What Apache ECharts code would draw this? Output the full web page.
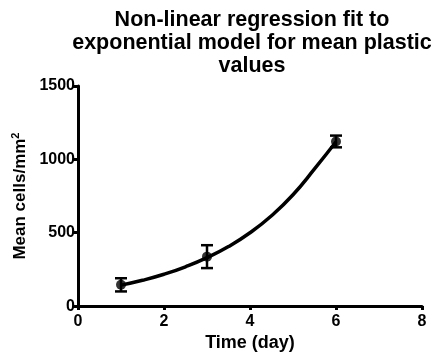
<!DOCTYPE html>
<html>
<head>
<meta charset="utf-8">
<script src="https://cdn.jsdelivr.net/npm/echarts@6/dist/echarts.min.js"></script>
<style>html,body{margin:0;padding:0;background:#fff}#c{width:435px;height:357px}</style>
</head>
<body>
<div id="c"></div>
<script>
// Observed means with SEM
var days = [1, 3, 6];
var meanValues = [145, 337, 1122];
var semValues = [45, 78, 40];
// Fitted exponential curve
var fitDays = [1, 1.5, 2, 2.5, 3, 3.5, 4, 4.5, 5, 5.5, 6];
var fitValues = [143, 176, 217, 268, 330, 406, 500, 616, 759, 935, 1120];
var xTicks = [0, 2, 4, 6, 8];
var yTicks = [0, 500, 1000, 1500];

var FONT = '"Liberation Sans", Arial, sans-serif';
var chart = echarts.init(document.getElementById('c'), null, {renderer: 'canvas'});

var pts = days.map(function (d, i) { return [d, meanValues[i]]; });
var errs = days.map(function (d, i) { return [d, meanValues[i] - semValues[i], meanValues[i] + semValues[i]]; });
var fit = fitDays.map(function (d, i) { return [d, fitValues[i]]; });

chart.setOption({
  animation: false,
  backgroundColor: '#fff',
  title: {
    text: 'Non-linear regression fit to\nexponential model for mean plastic\nvalues',
    left: 247, top: 4, textAlign: 'center',
    textStyle: {fontFamily: FONT, fontWeight: 'bold', fontSize: 21.5, lineHeight: 23, color: '#000'}
  },
  grid: {left: 78, right: 13, top: 86, bottom: 50, containLabel: false},
  xAxis: {
    type: 'value', min: xTicks[0], max: xTicks[xTicks.length - 1], interval: 2,
    name: 'Time (day)', nameLocation: 'middle', nameGap: 26,
    nameTextStyle: {fontFamily: FONT, fontWeight: 'bold', fontSize: 18, color: '#000'},
    axisLine: {lineStyle: {color: '#000', width: 3}},
    axisTick: {show: true, length: 4, lineStyle: {color: '#000', width: 3}},
    axisLabel: {fontFamily: FONT, fontWeight: 'bold', fontSize: 16, color: '#000', margin: 7,
      formatter: function (v) { return String(v); }},
    splitLine: {show: false}
  },
  yAxis: {
    type: 'value', min: yTicks[0], max: yTicks[yTicks.length - 1], interval: 500,
    name: 'Mean cells/mm{sup|2}', nameLocation: 'middle', nameGap: 48,
    nameTextStyle: {fontFamily: FONT, fontWeight: 'bold', fontSize: 17, color: '#000',
      rich: {sup: {fontFamily: FONT, fontWeight: 'bold', fontSize: 11, verticalAlign: 'top', padding: [0, 0, 8, 0], color: '#000'}}},
    axisLine: {show: true, lineStyle: {color: '#000', width: 3}},
    axisTick: {show: true, length: 5, lineStyle: {color: '#000', width: 3}},
    axisLabel: {fontFamily: FONT, fontWeight: 'bold', fontSize: 16, color: '#000', margin: 3,
      formatter: function (v) { return String(v); }},
    splitLine: {show: false}
  },
  series: [
    {
      type: 'line', data: fit, smooth: true, showSymbol: false,
      lineStyle: {color: '#000', width: 3.5}, z: 2
    },
    {
      type: 'custom', data: errs, z: 3,
      renderItem: function (params, api) {
        var x = api.value(0);
        var lo = api.coord([x, api.value(1)]);
        var hi = api.coord([x, api.value(2)]);
        var w = 6;
        var st = {stroke: '#000', lineWidth: 2.5};
        return {type: 'group', children: [
          {type: 'line', shape: {x1: lo[0], y1: lo[1], x2: hi[0], y2: hi[1]}, style: st},
          {type: 'line', shape: {x1: lo[0] - w, y1: lo[1], x2: lo[0] + w, y2: lo[1]}, style: st},
          {type: 'line', shape: {x1: hi[0] - w, y1: hi[1], x2: hi[0] + w, y2: hi[1]}, style: st}
        ]};
      }
    },
    {
      type: 'scatter', data: pts, symbol: 'circle', symbolSize: 10,
      itemStyle: {color: '#000'}, z: 4
    }
  ]
});
</script>
</body>
</html>
